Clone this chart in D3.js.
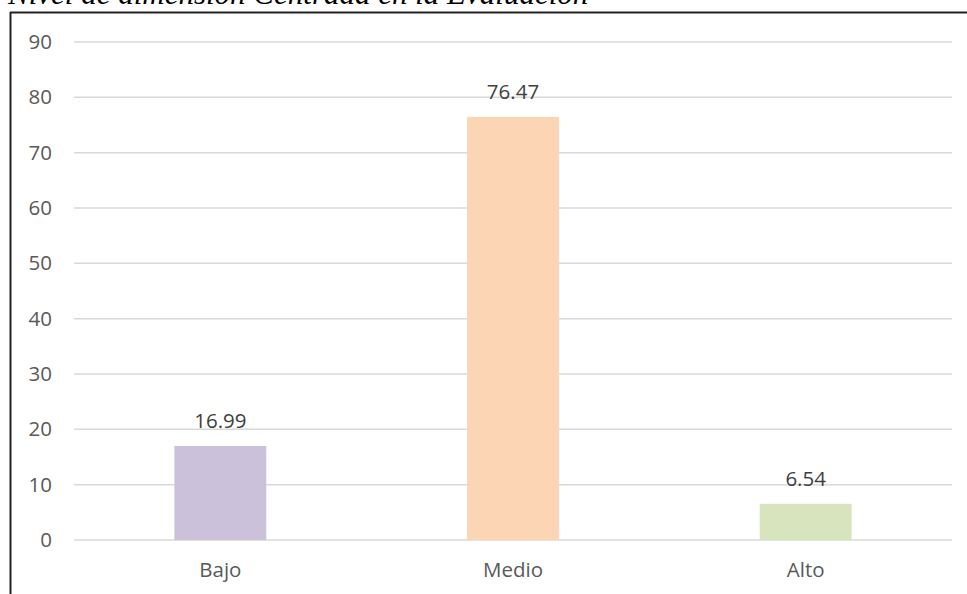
<!DOCTYPE html>
<html>
<head>
<meta charset="utf-8">
<script src="https://cdn.jsdelivr.net/npm/d3@7"></script>
<style>
  html, body { margin: 0; padding: 0; background: #fff; }
  svg { display: block; }
</style>
</head>
<body>
<script>
// Chart data
const categories = ["Bajo", "Medio", "Alto"];
const values = [16.99, 76.47, 6.54];
const barColors = ["#CCC1DA", "#FCD5B4", "#D7E4BD"];
const yTicks = [0, 10, 20, 30, 40, 50, 60, 70, 80, 90];
const titleText = "Nivel de dimensión Centrada en la Evaluación";

const W = 967, H = 594;
const svg = d3.select("body").append("svg")
  .attr("width", W).attr("height", H);

// Caption above the frame
svg.append("text")
  .attr("x", 8).attr("y", 4)
  .attr("font-family", "Liberation Serif, Times New Roman, serif")
  .attr("font-style", "italic")
  .attr("font-size", 31)
  .attr("fill", "#000")
  .text(titleText);

// Frame lines (top and left)
svg.append("line").attr("x1", 10).attr("x2", W).attr("y1", 12.5).attr("y2", 12.5)
  .attr("stroke", "#222").attr("stroke-width", 2);
svg.append("line").attr("x1", 10.5).attr("x2", 10.5).attr("y1", 12).attr("y2", H)
  .attr("stroke", "#222").attr("stroke-width", 2);

const plot = { left: 74, right: 952, top: 42, bottom: 540 };

const y = d3.scaleLinear().domain([0, 90]).range([plot.bottom, plot.top]);
const x = d3.scaleBand().domain(categories)
  .range([plot.left, plot.right])
  .paddingInner(0.686).paddingOuter(0.343);

const font = "'Open Sans', Carlito, Calibri, sans-serif";
const fontSize = 20.5;

// Gridlines
svg.append("g").selectAll("line").data(yTicks).join("line")
  .attr("x1", plot.left).attr("x2", plot.right)
  .attr("y1", d => y(d)).attr("y2", d => y(d))
  .attr("stroke", "#D9D9D9").attr("stroke-width", 1.5);

// Y axis labels
const yAxis = d3.axisLeft(y).tickValues(yTicks).tickSize(0).tickPadding(0);
const yg = svg.append("g").attr("transform", `translate(52,0)`).call(yAxis);
yg.select(".domain").remove();
yg.selectAll("text")
  .attr("font-family", font).attr("font-size", fontSize).attr("fill", "#595959");

// Bars
svg.append("g").selectAll("rect").data(values).join("rect")
  .attr("x", (d, i) => x(categories[i]))
  .attr("width", x.bandwidth())
  .attr("y", d => y(d))
  .attr("height", d => y(0) - y(d))
  .attr("fill", (d, i) => barColors[i]);

// Value labels
svg.append("g").selectAll("text").data(values).join("text")
  .attr("x", (d, i) => x(categories[i]) + x.bandwidth() / 2)
  .attr("y", d => y(d) - 18)
  .attr("text-anchor", "middle")
  .attr("font-family", font).attr("font-size", fontSize).attr("fill", "#404040")
  .text(d => d.toFixed(2));

// X axis labels
const xAxis = d3.axisBottom(x).tickSize(0).tickPadding(0);
const xg = svg.append("g").attr("transform", `translate(0,${plot.bottom})`).call(xAxis);
xg.select(".domain").remove();
xg.selectAll("text")
  .attr("dy", null).attr("y", 37)
  .attr("font-family", font).attr("font-size", fontSize).attr("fill", "#595959");
</script>
</body>
</html>
